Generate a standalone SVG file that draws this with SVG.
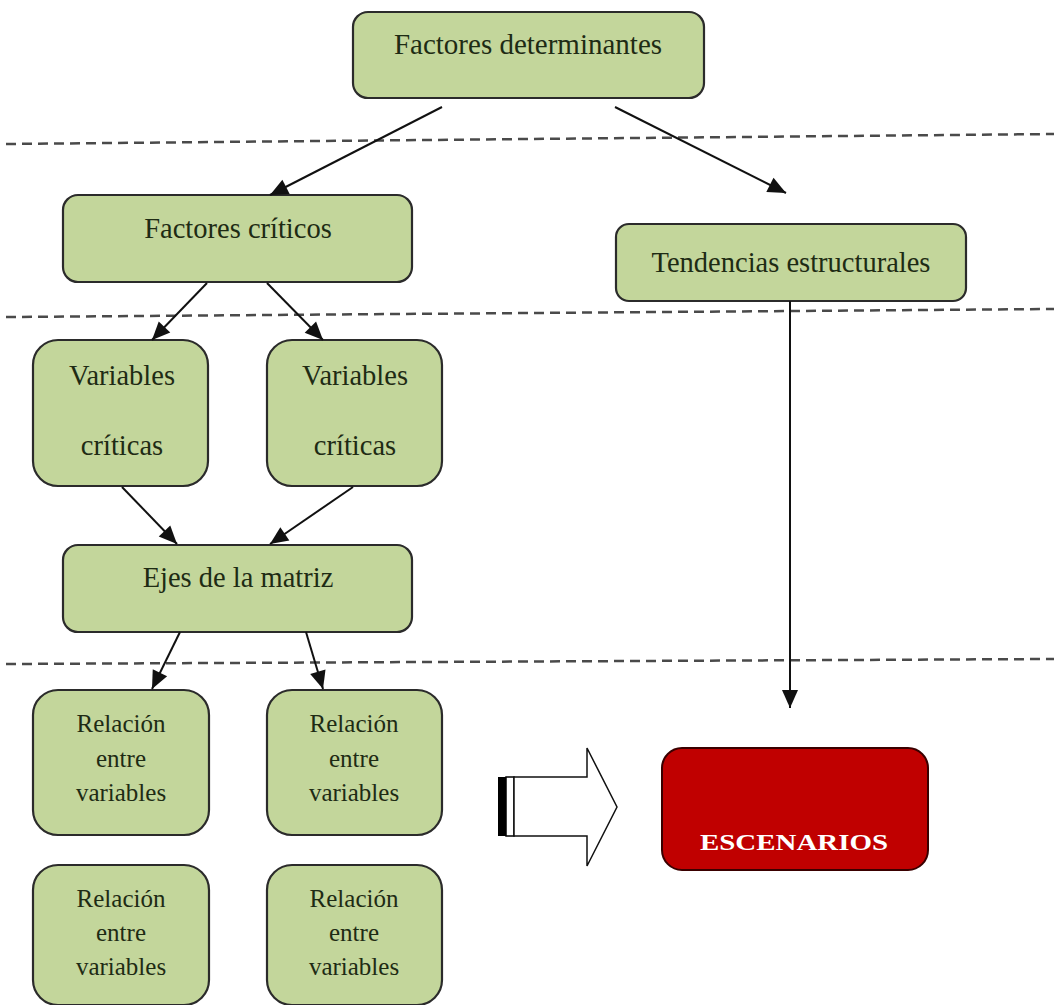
<svg xmlns="http://www.w3.org/2000/svg" width="1056" height="1005" viewBox="0 0 1056 1005">
<style>
.box{fill:#c3d69b;stroke:#2b2b2b;stroke-width:2.2}
.t{font-family:"Liberation Serif","Times New Roman",serif;fill:#1e2b14;text-anchor:middle}
.big{font-size:28.5px}
.sm{font-size:25px}
.dash{stroke:#4a4a4a;stroke-width:2.5;stroke-dasharray:10 6;fill:none}
.con{stroke:#111;stroke-width:2;fill:none;marker-end:url(#ah)}
</style>
<defs>
<marker id="ah" markerWidth="20" markerHeight="20" refX="0" refY="0" markerUnits="userSpaceOnUse" orient="auto" style="overflow:visible">
<path d="M-18,-8 L0,0 L-18,8 z" fill="#111"/>
</marker>
</defs>
<rect width="1056" height="1005" fill="#ffffff"/>
<g id="separators">
<line class="dash" x1="6" y1="144" x2="1054" y2="134"/>
<line class="dash" x1="6" y1="317" x2="1054" y2="309"/>
<line class="dash" x1="6" y1="664" x2="1054" y2="659"/>
</g>
<g id="n-factores-determinantes">
<rect class="box" x="353" y="12" width="351" height="86" rx="15"/>
<text class="t big" x="528" y="54" style="font-size:29px">Factores determinantes</text>
</g>
<g id="n-factores-criticos">
<rect class="box" x="63" y="195" width="349" height="87" rx="15"/>
<text class="t big" x="238" y="238">Factores críticos</text>
</g>
<g id="n-tendencias">
<rect class="box" x="616" y="224" width="350" height="77" rx="13"/>
<text class="t big" x="791" y="272">Tendencias estructurales</text>
</g>
<g id="n-variables-1">
<rect class="box" x="33" y="340" width="175" height="146" rx="25"/>
<text class="t big" x="122" y="385">Variables</text>
<text class="t big" x="122" y="455">críticas</text>
</g>
<g id="n-variables-2">
<rect class="box" x="267" y="340" width="175" height="146" rx="25"/>
<text class="t big" x="355" y="385">Variables</text>
<text class="t big" x="355" y="455">críticas</text>
</g>
<g id="n-ejes">
<rect class="box" x="63" y="545" width="349" height="87" rx="15"/>
<text class="t big" x="238" y="587">Ejes de la matriz</text>
</g>
<g id="n-relacion-1">
<rect class="box" x="33" y="690" width="176" height="145" rx="25"/>
<text class="t sm" x="121" y="732">Relación</text>
<text class="t sm" x="121" y="767">entre</text>
<text class="t sm" x="121" y="801">variables</text>
</g>
<g id="n-relacion-2">
<rect class="box" x="267" y="690" width="175" height="145" rx="25"/>
<text class="t sm" x="354" y="732">Relación</text>
<text class="t sm" x="354" y="767">entre</text>
<text class="t sm" x="354" y="801">variables</text>
</g>
<g id="n-relacion-3">
<rect class="box" x="33" y="865" width="176" height="140" rx="25"/>
<text class="t sm" x="121" y="907">Relación</text>
<text class="t sm" x="121" y="941">entre</text>
<text class="t sm" x="121" y="975">variables</text>
</g>
<g id="n-relacion-4">
<rect class="box" x="267" y="865" width="175" height="140" rx="25"/>
<text class="t sm" x="354" y="907">Relación</text>
<text class="t sm" x="354" y="941">entre</text>
<text class="t sm" x="354" y="975">variables</text>
</g>
<g id="n-escenarios">
<rect x="662" y="748" width="266" height="122" rx="20" fill="#c00000" stroke="#3a0000" stroke-width="2"/>
<text class="t" x="794" y="850" style="font-size:24px;font-weight:bold;fill:#ffffff" textLength="188" lengthAdjust="spacingAndGlyphs">ESCENARIOS</text>
</g>
<g id="n-block-arrow">
<rect x="498" y="777" width="8" height="59" fill="#000"/>
<rect x="506" y="777" width="8" height="59" fill="#fff" stroke="#000" stroke-width="1.5"/>
<path d="M514,777 L587,777 L587,748 L617,807 L587,866 L587,836 L514,836 Z" fill="#fff" stroke="#111" stroke-width="1.5"/>
</g>
<g id="connectors">
<line class="con" x1="442" y1="107" x2="270" y2="195"/>
<line class="con" x1="615" y1="107" x2="786" y2="193"/>
<line class="con" x1="207" y1="283" x2="152" y2="340"/>
<line class="con" x1="267" y1="283" x2="323" y2="340"/>
<line class="con" x1="122" y1="487" x2="177" y2="544"/>
<line class="con" x1="353" y1="487" x2="270" y2="544"/>
<line class="con" x1="180" y1="632" x2="152" y2="689"/>
<line class="con" x1="306" y1="632" x2="323" y2="689"/>
<line class="con" x1="790" y1="301" x2="790" y2="708"/>
</g>
</svg>
